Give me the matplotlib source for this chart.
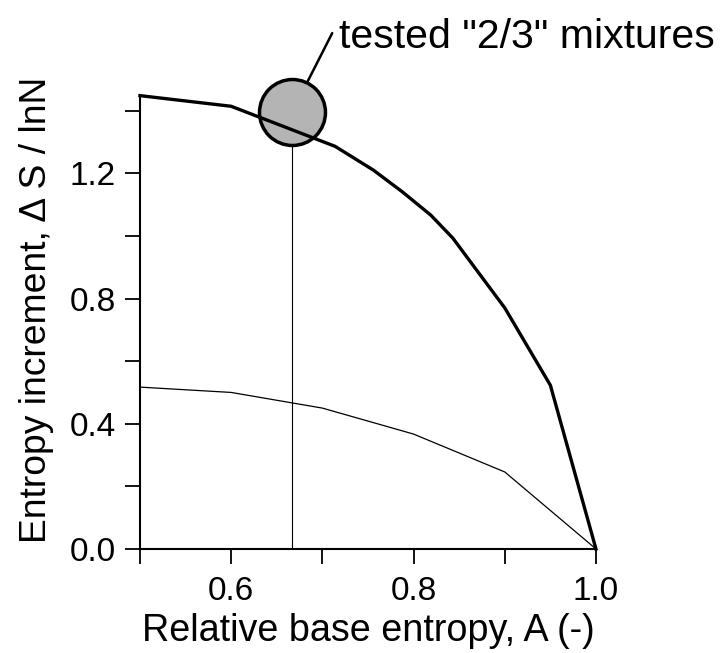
import matplotlib
matplotlib.use("Agg")
import matplotlib.pyplot as plt

plt.rcParams['font.family'] = ['Liberation Sans', 'DejaVu Sans']

# thick curve: entropy increment vs relative base entropy
A_thick = [0.5, 0.6, 0.714, 0.756, 0.788, 0.819, 0.843, 0.9, 0.95, 1.0]
dS_thick = [1.448, 1.414, 1.286, 1.21, 1.14, 1.066, 0.993, 0.77, 0.523, 0.0]

# thin curve
A_thin = [0.5, 0.6, 0.7, 0.8, 0.9, 1.0]
dS_thin = [0.517, 0.500, 0.450, 0.367, 0.246, 0.0]

# tested "2/3" mixtures marker
A_test = 2 / 3
dS_test = 1.395

xticks = [0.5, 0.6, 0.7, 0.8, 0.9, 1.0]
xticklabels = ['', '0.6', '', '0.8', '', '1.0']
yticks = [0.0, 0.2, 0.4, 0.6, 0.8, 1.0, 1.2, 1.4]
yticklabels = ['0.0', '', '0.4', '', '0.8', '', '1.2', '']

fig = plt.figure(figsize=(7.23, 6.53), dpi=100)
ax = fig.add_axes([0.1936, 0.1593, 0.6307, 0.6952])

ax.vlines(A_test, 0, dS_test, color='black', lw=0.8, zorder=2)
ax.plot([A_test], [dS_test], marker='o', markersize=47.5, markerfacecolor='#b4b4b4',
        markeredgecolor='black', markeredgewidth=2.5, clip_on=False, zorder=3)
ax.plot(A_thick, dS_thick, color='black', lw=2.4, clip_on=False, zorder=4)
ax.plot(A_thin, dS_thin, color='black', lw=0.9, clip_on=False, zorder=4)

# leader line and label
ax.annotate('', xy=(A_test, dS_test), xytext=(29, 57), textcoords='offset points',
            arrowprops=dict(arrowstyle='-', lw=1.8, color='black', shrinkA=0, shrinkB=25),
            annotation_clip=False)
ax.annotate('tested "2/3" mixtures', xy=(A_test, dS_test), xytext=(34, 46),
            textcoords='offset points', ha='left', va='baseline', fontsize=29.5,
            annotation_clip=False)

ax.set_xlim(0.5, 1.0)
ax.set_ylim(0, 1.45)
ax.set_xticks(xticks)
ax.set_xticklabels(xticklabels)
ax.set_yticks(yticks)
ax.set_yticklabels(yticklabels)

for s in ['top', 'right']:
    ax.spines[s].set_visible(False)
for s in ['left', 'bottom']:
    ax.spines[s].set_linewidth(1.5)

ax.tick_params(axis='both', direction='out', length=10.5, width=1.3, labelsize=24)
ax.tick_params(axis='x', pad=9)
ax.tick_params(axis='y', pad=7)

ax.set_xlabel('Relative base entropy, A (-)', fontsize=27.2, labelpad=4)
ax.set_ylabel('Entropy increment, \u0394 S / lnN', fontsize=26.8)
ax.yaxis.set_label_coords(-0.188, 0.526)

fig.savefig('out.png', dpi=100)
